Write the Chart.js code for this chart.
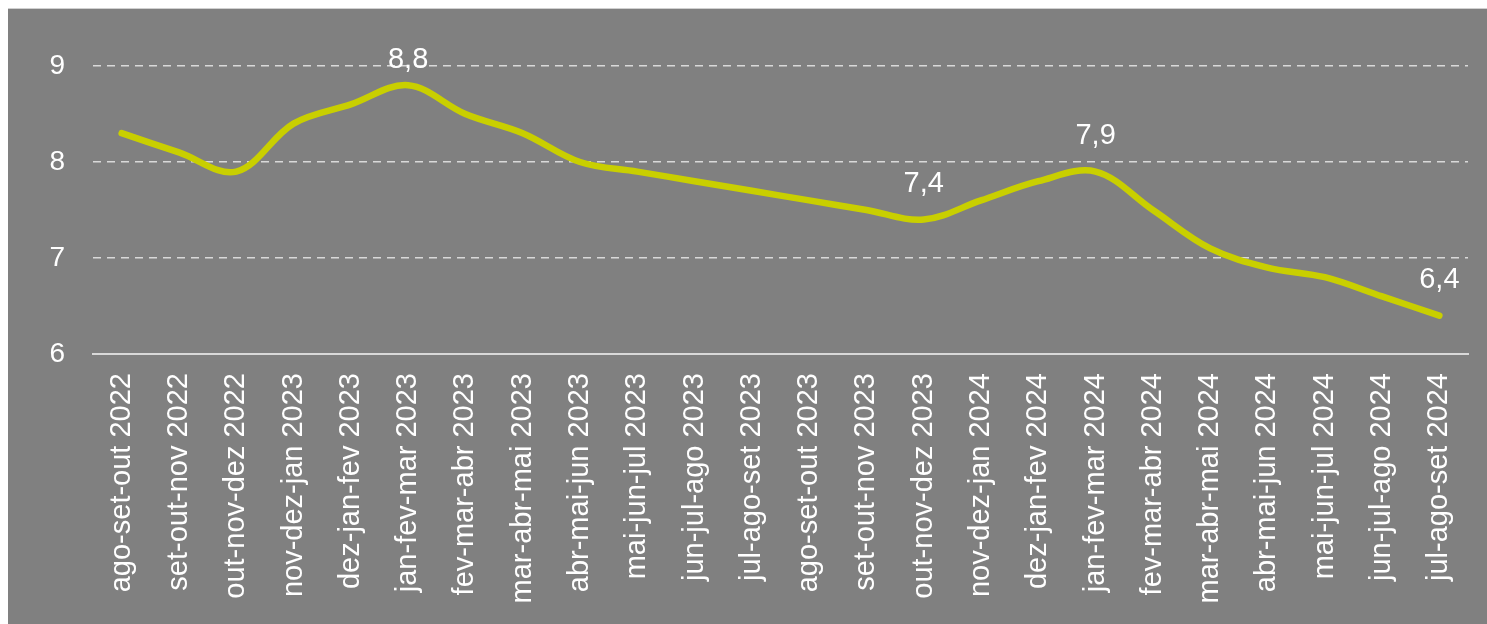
<!DOCTYPE html>
<html>
<head>
<meta charset="utf-8">
<script src="https://cdn.jsdelivr.net/npm/chart.js@4/dist/chart.umd.min.js"></script>
<style>
  html, body { margin: 0; padding: 0; background: #fff; }
  #wrap {
    position: absolute; left: 8px; top: 8px;
    width: 1479px; height: 616px;
    background: #808080;
    border-top: 1px solid #d0d0d0;
    box-sizing: border-box;
  }
</style>
</head>
<body>
<div id="wrap"><canvas id="rateChart"></canvas></div>
<script>
const periods = [
  'ago-set-out 2022', 'set-out-nov 2022', 'out-nov-dez 2022', 'nov-dez-jan 2023',
  'dez-jan-fev 2023', 'jan-fev-mar 2023', 'fev-mar-abr 2023', 'mar-abr-mai 2023',
  'abr-mai-jun 2023', 'mai-jun-jul 2023', 'jun-jul-ago 2023', 'jul-ago-set 2023',
  'ago-set-out 2023', 'set-out-nov 2023', 'out-nov-dez 2023', 'nov-dez-jan 2024',
  'dez-jan-fev 2024', 'jan-fev-mar 2024', 'fev-mar-abr 2024', 'mar-abr-mai 2024',
  'abr-mai-jun 2024', 'mai-jun-jul 2024', 'jun-jul-ago 2024', 'jul-ago-set 2024'
];
const rates = [
  8.3, 8.1, 7.9, 8.4, 8.6, 8.8, 8.5, 8.3, 8.0, 7.9, 7.8, 7.7,
  7.6, 7.5, 7.4, 7.6, 7.8, 7.9, 7.5, 7.1, 6.9, 6.8, 6.6, 6.4
];
const labeledPoints = [5, 14, 17, 23]; // only these get a value label
const yTicks = [6, 7, 8, 9];

const fontFamily = '"Liberation Sans", Arial, sans-serif';

// small inline plugin for the value labels above selected points
const pointLabels = {
  id: 'pointLabels',
  afterDatasetsDraw(chart) {
    const { ctx, chartArea } = chart;
    const meta = chart.getDatasetMeta(0);
    ctx.save();
    ctx.font = '29px ' + fontFamily;
    ctx.fillStyle = '#ffffff';
    ctx.textAlign = 'center';
    ctx.textBaseline = 'alphabetic';
    labeledPoints.forEach(i => {
      const pt = meta.data[i];
      let y = pt.y - 28;
      if (y < chartArea.top + 2) y = chartArea.top + 2; // keep inside plot, like the original
      ctx.fillText(rates[i].toFixed(1).replace('.', ','), pt.x, y);
    });
    ctx.restore();
  }
};

const ctx = document.getElementById('rateChart').getContext('2d');

new Chart(ctx, {
  type: 'line',
  data: {
    labels: periods,
    datasets: [{
      data: rates,
      borderColor: '#c9cf00',
      borderWidth: 6.5,
      borderCapStyle: 'round',
      pointRadius: 0,
      tension: 0.35,
      fill: false
    }]
  },
  options: {
    responsive: true,
    maintainAspectRatio: false,
    animation: false,
    layout: {
      padding: { top: 57, right: 19, left: 0, bottom: 0 }
    },
    plugins: {
      legend: { display: false },
      tooltip: { enabled: false }
    },
    scales: {
      x: {
        offset: true,
        grid: { display: false },
        border: { display: true, color: '#d9d9d9', width: 2 },
        ticks: {
          color: '#ffffff',
          font: { family: fontFamily, size: 29 },
          minRotation: 90,
          maxRotation: 90,
          autoSkip: false,
          padding: 11
        },
        afterFit: (scale) => { scale.height = 270; }
      },
      y: {
        min: 6,
        max: 9,
        afterBuildTicks: (scale) => { scale.ticks = yTicks.map(v => ({ value: v })); },
        grid: {
          color: '#d9d9d9',
          lineWidth: 1.5,
          drawTicks: false
        },
        border: { display: false, dash: [8, 6] },
        ticks: {
          color: '#ffffff',
          font: { family: fontFamily, size: 28 },
          padding: 28
        },
        afterFit: (scale) => { scale.width = 85; }
      }
    }
  },
  plugins: [pointLabels]
});
</script>
</body>
</html>
